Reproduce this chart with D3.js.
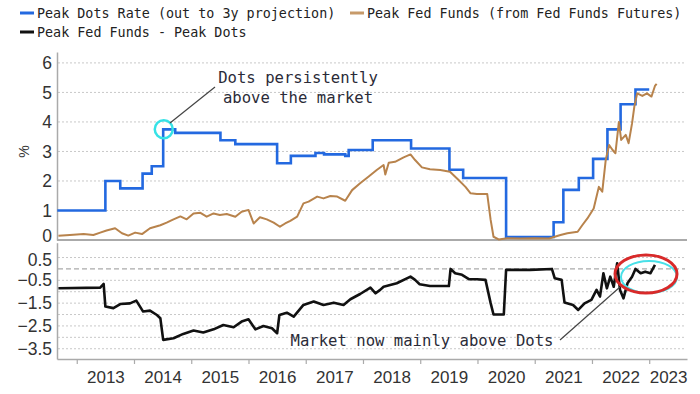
<!DOCTYPE html>
<html>
<head>
<meta charset="utf-8">
<script src="https://cdn.jsdelivr.net/npm/d3@7"></script>
<style>
  body { margin: 0; background: #fff; }
  svg { display: block; }
  .tick text { font-family: "Liberation Sans", Arial, sans-serif; fill: #333; }
</style>
</head>
<body>
<svg></svg>
<script>
const width = 700;
const height = 394;

// Peak dots rate (step series): [decimal year, value]
const dotsDates = [2012.66, 2013.50, 2013.76, 2014.15, 2014.31, 2014.51, 2014.72, 2015.51, 2015.77, 2016.50,
  2016.74, 2017.17, 2017.32, 2017.69, 2017.75, 2018.17, 2018.84, 2019.51, 2019.75, 2020.50,
  2021.33, 2021.50, 2021.77, 2022.02, 2022.27, 2022.50, 2022.76, 2023.00];
const dotsValues = [1, 2, 1.75, 2.25, 2.5, 3.75, 3.63, 3.38, 3.25, 2.6,
  2.85, 2.95, 2.9, 2.85, 3.05, 3.38, 3.1, 2.38, 2.1, 0.1,
  0.6, 1.7, 2.1, 2.75, 3.75, 4.6, 5.1, 5.1];

// Peak fed funds from futures
const futDates = [2012.68, 2012.88, 2013.12, 2013.29, 2013.41, 2013.52, 2013.67, 2013.79, 2013.90, 2014.02,
  2014.14, 2014.28, 2014.46, 2014.57, 2014.69, 2014.81, 2014.92, 2015.04, 2015.16, 2015.27,
  2015.39, 2015.50, 2015.62, 2015.77, 2015.88, 2016.00, 2016.09, 2016.20, 2016.32, 2016.44,
  2016.55, 2016.64, 2016.73, 2016.85, 2016.96, 2017.05, 2017.20, 2017.31, 2017.43, 2017.55,
  2017.69, 2017.81, 2017.95, 2018.10, 2018.24, 2018.36, 2018.39, 2018.45, 2018.56, 2018.71,
  2018.83, 2018.91, 2019.03, 2019.17, 2019.35, 2019.52, 2019.67, 2019.79, 2019.88, 2019.99,
  2020.17, 2020.23, 2020.28, 2020.37, 2020.52, 2020.75, 2021.00, 2021.25, 2021.45, 2021.57,
  2021.75, 2021.83, 2021.92, 2022.03, 2022.12, 2022.18, 2022.24, 2022.30, 2022.36, 2022.41,
  2022.47, 2022.51, 2022.59, 2022.64, 2022.70, 2022.74, 2022.79, 2022.88, 2022.96, 2023.04,
  2023.10, 2023.13];
const futValues = [0.14, 0.17, 0.2, 0.17, 0.25, 0.32, 0.4, 0.23, 0.15, 0.25,
  0.2, 0.4, 0.5, 0.59, 0.7, 0.8, 0.7, 0.9, 0.92, 0.79,
  0.9, 0.85, 0.88, 0.79, 0.96, 1.02, 0.56, 0.77, 0.7, 0.59,
  0.45, 0.56, 0.65, 0.79, 1.24, 1.3, 1.47, 1.41, 1.49, 1.47,
  1.33, 1.69, 1.92, 2.15, 2.37, 2.54, 2.22, 2.62, 2.65, 2.8,
  2.9, 2.71, 2.46, 2.4, 2.37, 2.31, 2.03, 1.8, 1.58, 1.56,
  1.56, 0.68, 0.11, 0.02, 0.06, 0.05, 0.06, 0.05, 0.17, 0.23,
  0.28, 0.5, 0.73, 1.07, 1.8, 1.64, 2.71, 3.22, 3.05, 2.94,
  4.0, 3.39, 3.56, 3.28, 3.95, 4.52, 4.97, 4.88, 4.97, 4.86,
  5.22, 5.29];

// Peak fed funds - peak dots
const spreadDates = [2012.68, 2013.41, 2013.47, 2013.50, 2013.64, 2013.76, 2013.93, 2014.04, 2014.16, 2014.28,
  2014.40, 2014.46, 2014.51, 2014.69, 2014.86, 2015.04, 2015.21, 2015.39, 2015.56, 2015.74,
  2015.88, 2016.00, 2016.12, 2016.26, 2016.41, 2016.50, 2016.54, 2016.67, 2016.79, 2016.96,
  2017.14, 2017.31, 2017.49, 2017.66, 2017.78, 2017.95, 2018.13, 2018.22, 2018.30, 2018.36,
  2018.59, 2018.83, 2018.91, 2018.99, 2019.17, 2019.35, 2019.50, 2019.53, 2019.61, 2019.73,
  2019.85, 2019.99, 2020.14, 2020.23, 2020.28, 2020.46, 2020.50, 2020.92, 2021.30, 2021.35,
  2021.47, 2021.52, 2021.67, 2021.76, 2021.87, 2021.99, 2022.08, 2022.14, 2022.20, 2022.26,
  2022.32, 2022.38, 2022.44, 2022.49, 2022.55, 2022.62, 2022.70, 2022.76, 2022.85, 2022.93,
  2023.02, 2023.10];
const spreadValues = [-0.85, -0.82, -0.66, -1.65, -1.72, -1.54, -1.51, -1.39, -1.87, -1.83,
  -2.02, -2.16, -3.11, -3.04, -2.85, -2.7, -2.79, -2.65, -2.46, -2.56,
  -2.31, -2.21, -2.65, -2.5, -2.6, -2.82, -2.02, -1.92, -2.09, -1.58,
  -1.43, -1.58, -1.48, -1.58, -1.33, -1.1, -0.82, -1.07, -0.92, -0.78,
  -0.63, -0.34, -0.48, -0.67, -0.75, -0.75, -0.75, 0.0, -0.19, -0.26,
  -0.45, -0.45, -0.48, -1.5, -2.0, -2.0, -0.04, -0.04, 0.0, -0.41,
  -0.48, -1.47, -1.58, -1.8, -1.51, -1.36, -0.92, -1.21, -0.19, -0.85,
  -0.34, -0.78, 0.25, -0.92, -1.29, -0.63, -0.34, 0.0, -0.19, -0.12,
  -0.19, 0.18];

const yearTicks = d3.range(2013, 2024);
const yearLabels = ['2013', '2014', '2015', '2016', '2017', '2018', '2019', '2020', '2021', '2022', '2023'];
const topTicks = [0, 1, 2, 3, 4, 5, 6];
const bottomTicks = [0.5, -0.5, -1.5, -2.5, -3.5];
const bottomGrid = [0.5, -0.5, -1, -1.5, -2, -2.5, -3, -3.5];

const svg = d3.select('svg')
  .attr('width', width)
  .attr('height', height);

const x = d3.scaleLinear().domain([2012.655, 2023.66]).range([57, 687]);
const yTop = d3.scaleLinear().domain([0, 6.37]).range([240, 52]);
const yBot = d3.scaleLinear().domain([-3.95, 1.15]).range([359, 242.7]);

const gridX1 = 58, gridX2 = 685;

// grids
svg.append('g').selectAll('line')
  .data(topTicks.filter(d => d > 0))
  .enter().append('line')
    .attr('x1', gridX1).attr('x2', gridX2)
    .attr('y1', d => yTop(d)).attr('y2', d => yTop(d))
    .attr('stroke', '#c8c8c8')
    .attr('stroke-dasharray', '2,2');

svg.append('g').selectAll('line')
  .data(bottomGrid)
  .enter().append('line')
    .attr('x1', gridX1).attr('x2', gridX2)
    .attr('y1', d => yBot(d)).attr('y2', d => yBot(d))
    .attr('stroke', '#c8c8c8')
    .attr('stroke-dasharray', '2,2');

svg.append('line')
  .attr('x1', gridX1).attr('x2', gridX2)
  .attr('y1', yBot(0)).attr('y2', yBot(0))
  .attr('stroke', '#aaa')
  .attr('stroke-width', 1.2)
  .attr('stroke-dasharray', '5,3');

// y axes
const axisTop = svg.append('g')
  .attr('transform', `translate(${x.range()[0]},0)`)
  .call(d3.axisLeft(yTop).tickValues(topTicks).tickFormat(d3.format('d'))
    .tickSize(0).tickPadding(5).tickSizeOuter(0));
const axisBot = svg.append('g')
  .attr('transform', `translate(${x.range()[0]},0)`)
  .call(d3.axisLeft(yBot).tickValues(bottomTicks).tickSize(0).tickPadding(5).tickSizeOuter(0));
[axisTop, axisBot].forEach(g => {
  g.select('.domain').attr('stroke', '#aaa').attr('stroke-width', 1.5);
  g.selectAll('.tick text').attr('font-size', 17.5);
});
// the 0 label sits right on the panel seam; keep it clear of 0.5 below
axisTop.selectAll('.tick').filter(d => d === 0).select('text').attr('dy', '0.1em');
axisBot.selectAll('.tick').filter(d => d === 0.5).select('text').attr('dy', '0.45em');

// top panel baseline
svg.append('line')
  .attr('x1', x.range()[0]).attr('x2', x.range()[1])
  .attr('y1', yTop(0)).attr('y2', yTop(0))
  .attr('stroke', '#aaa').attr('stroke-width', 2);

svg.append('text')
  .attr('transform', `translate(29,${yTop(3)}) rotate(-90)`)
  .attr('text-anchor', 'middle')
  .attr('font-family', '"Liberation Sans", Arial, sans-serif')
  .attr('font-size', 14)
  .attr('fill', '#333')
  .text('%');

// x axis: ticks at year starts, labels centred in each year
const xAxisG = svg.append('g')
  .attr('transform', `translate(0,${yBot.range()[0]})`)
  .call(d3.axisBottom(x).tickValues(yearTicks).tickSize(5).tickSizeOuter(0).tickFormat(''));
xAxisG.select('.domain').attr('stroke', '#aaa').attr('stroke-width', 1.5);
xAxisG.selectAll('.tick line').attr('stroke', '#aaa').attr('stroke-width', 1.2);

const labelPos = yearTicks.map(d => d === 2023 ? (d + x.domain()[1]) / 2 : d + 0.5);
const xLab = svg.append('g')
  .attr('transform', `translate(0,${yBot.range()[0]})`)
  .call(d3.axisBottom(x).tickValues(labelPos).tickSize(0).tickPadding(12)
    .tickFormat((d, i) => yearLabels[i]));
xLab.select('.domain').remove();
xLab.selectAll('.tick text').attr('font-size', 17);

// series
const dots = dotsDates.map((d, i) => [d, dotsValues[i]]);
const fut = futDates.map((d, i) => [d, futValues[i]]);
const spread = spreadDates.map((d, i) => [d, spreadValues[i]]);

svg.append('path')
  .datum(dots)
  .attr('fill', 'none')
  .attr('stroke', '#2369e0')
  .attr('stroke-width', 2.6)
  .attr('d', d3.line().curve(d3.curveStepAfter).x(d => x(d[0])).y(d => yTop(d[1])));

svg.append('path')
  .datum(fut)
  .attr('fill', 'none')
  .attr('stroke', '#b8834c')
  .attr('stroke-width', 2)
  .attr('stroke-linejoin', 'round')
  .attr('d', d3.line().x(d => x(d[0])).y(d => yTop(d[1])));

svg.append('path')
  .datum(spread)
  .attr('fill', 'none')
  .attr('stroke', '#111')
  .attr('stroke-width', 2.6)
  .attr('stroke-linejoin', 'round')
  .attr('d', d3.line().x(d => x(d[0])).y(d => yBot(d[1])));

// legend
const mono = '"DejaVu Sans Mono", monospace';
const legend = [
  { label: 'Peak Dots Rate (out to 3y projection)', color: '#2369e0', x: 20, y: 13 },
  { label: 'Peak Fed Funds (from Fed Funds Futures)', color: '#c79a6a', x: 350, y: 13 },
  { label: 'Peak Fed Funds - Peak Dots', color: '#111', x: 20, y: 32 }
];
const lg = svg.append('g').selectAll('g').data(legend).enter().append('g')
  .attr('transform', d => `translate(${d.x},${d.y})`);
lg.append('line')
  .attr('x1', 0).attr('x2', 14)
  .attr('stroke', d => d.color)
  .attr('stroke-width', 3);
lg.append('text')
  .attr('x', 17)
  .attr('dy', '0.35em')
  .attr('font-family', mono)
  .attr('font-size', 13.4)
  .attr('fill', '#222')
  .text(d => d.label);

// annotations
svg.append('circle')
  .attr('cx', x(2014.52)).attr('cy', yTop(3.75))
  .attr('r', 9)
  .attr('fill', 'none')
  .attr('stroke', '#36e2e6')
  .attr('stroke-width', 2.5);

svg.append('line')
  .attr('x1', 170).attr('y1', 123).attr('x2', 215).attr('y2', 87)
  .attr('stroke', '#444').attr('stroke-width', 1.2);

const note1 = svg.append('text')
  .attr('font-family', mono)
  .attr('font-size', 15.6)
  .attr('fill', '#2b2b38')
  .attr('text-anchor', 'middle');
note1.append('tspan').attr('x', 298).attr('y', 83).text('Dots persistently');
note1.append('tspan').attr('x', 298).attr('y', 103).text('above the market');

svg.append('line')
  .attr('x1', 560).attr('y1', 340).attr('x2', 620).attr('y2', 287)
  .attr('stroke', '#444').attr('stroke-width', 1.2);

svg.append('text')
  .attr('x', 422).attr('y', 346)
  .attr('text-anchor', 'middle')
  .attr('font-family', mono)
  .attr('font-size', 15.6)
  .attr('fill', '#2b2b38')
  .text('Market now mainly above Dots');

svg.append('ellipse')
  .attr('cx', 649).attr('cy', 277).attr('rx', 28).attr('ry', 16)
  .attr('fill', 'none')
  .attr('stroke', '#48e0e8')
  .attr('stroke-width', 2);

svg.append('ellipse')
  .attr('cx', 646).attr('cy', 274).attr('rx', 31).attr('ry', 19)
  .attr('fill', 'none')
  .attr('stroke', '#d82a2a')
  .attr('stroke-width', 3);
</script>
</body>
</html>
